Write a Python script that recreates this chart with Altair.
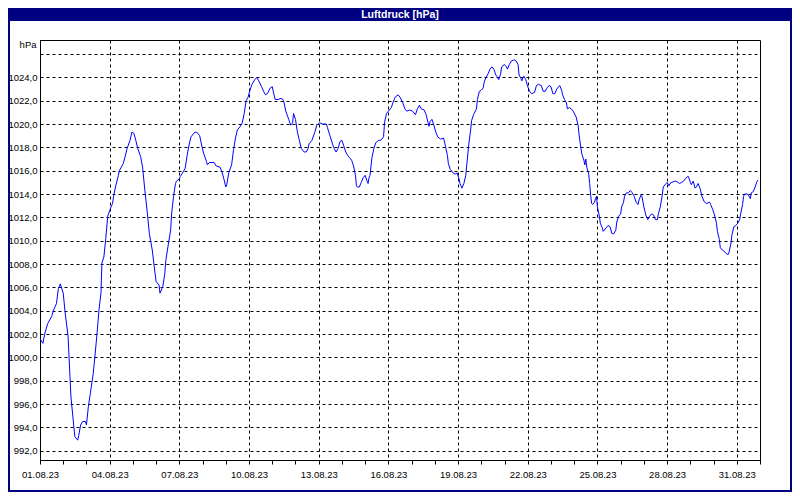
import altair as alt
import pandas as pd

# hours since 01.08.2023 00:00
hours = [
    0, 3, 5, 8, 12, 14, 17, 19, 21, 24, 26, 29, 31, 32, 34, 36, 39, 40, 42, 44,
    47, 48, 50, 52, 55, 57, 59, 61, 63, 64, 66, 68, 70, 73, 75, 76, 78, 81, 82, 86,
    88, 90, 93, 95, 97, 99, 101, 104, 106, 108, 111, 113, 116, 118, 120, 123, 124, 127,
    129, 130, 133, 135, 136, 138, 140, 141, 144, 145, 148, 150, 152, 154, 156, 160, 162, 165, 167, 169,
    172, 173, 175, 180, 182, 186, 188, 190, 192, 193, 195, 198, 200, 202, 204, 207, 209, 211, 213, 215,
    217, 219, 222, 224, 226, 229, 231, 233, 235, 238, 240, 241, 243, 246, 249, 251,
    252, 254, 257, 259, 261, 262, 264, 266, 268, 270, 273, 275, 277, 278, 281, 284, 286, 289, 292, 296,
    297, 300, 303, 304, 306, 308, 310, 312, 314, 316, 318, 320, 322, 324, 326, 327, 328, 330, 332, 334,
    336, 338, 339, 340, 341, 343, 345, 347, 350, 352, 355, 356, 358, 360, 363, 365, 367, 370, 372,
    375, 377, 379, 382, 385, 388, 390, 392, 394, 397, 399, 401, 402, 403, 405, 407, 409, 411, 414, 417,
    419, 421, 422, 424, 427, 429, 431, 433, 434, 436, 438, 440, 441, 443, 445, 446, 448, 451, 452, 454,
    456, 458, 459, 461, 463, 465, 467, 469, 471, 472, 474, 476, 477, 480, 482, 483, 485, 487, 490, 492,
    494, 495, 497, 498,
    499, 500, 502, 504, 506, 508, 511, 513, 515, 518, 520, 522, 524, 526, 528, 530, 532, 534, 537, 539,
    540, 542, 544, 545, 547, 549, 551, 554, 556, 557, 559, 560, 562, 563, 564, 565, 567, 568, 569, 570,
    571, 573, 574, 575, 576, 578, 579, 581, 582, 585, 587, 589, 591, 593, 595, 596, 598, 600, 601, 603,
    604, 606, 608, 610, 612, 614, 616, 618, 619, 621, 622,
    624, 626, 628, 630, 632, 634, 636, 638, 639, 641, 643, 644, 647, 648, 650, 651, 653, 656, 657, 659,
    661, 663, 665, 667, 669, 670, 672, 673, 675, 677, 679, 680, 682, 684, 686, 688, 689, 692, 693, 695,
    697, 699, 700, 702, 703, 705, 707, 709, 711, 712, 714, 715, 717, 719, 721, 723, 724, 726, 727, 728,
    731, 732, 734, 735, 737, 739, 741, 742,
]

pressure = [
    1001.6, 1001.2, 1002.05, 1002.9, 1003.5, 1004.05, 1004.6, 1005.9, 1006.3, 1005.5,
    1003.8, 1001.8, 998.3, 996.6, 994.9, 993.2, 992.9, 993.3, 994.2, 994.5,
    994.5, 994.2, 995.8, 996.9, 998.6, 1000.3, 1002.1, 1004.1, 1005.5, 1008.1,
    1008.6, 1010.2, 1012.1, 1012.8, 1013.2, 1013.8, 1014.6, 1015.6, 1016.0, 1016.6,
    1017.2, 1017.9, 1018.6, 1019.3, 1019.2, 1018.6, 1017.9, 1017.2, 1016.3, 1014.6,
    1012.3, 1010.6, 1009.2, 1007.8, 1006.5, 1006.2, 1005.5, 1006.1,
    1007.2, 1008.3, 1009.9, 1010.9, 1012.3, 1013.8, 1014.9, 1015.1, 1015.3, 1015.5,
    1015.9, 1016.2, 1017.3, 1018.2, 1018.9, 1019.3, 1019.3, 1019.0, 1018.2, 1017.5,
    1016.8, 1016.5, 1016.7, 1016.7, 1016.4, 1016.3, 1015.9, 1015.3, 1014.6, 1014.8,
    1015.8, 1016.5, 1017.8, 1018.8, 1019.5, 1019.8, 1020.1, 1020.9, 1022.0, 1022.3,
    1022.9, 1023.4, 1023.8, 1024.0, 1023.7, 1023.2, 1022.8, 1022.5, 1022.6, 1023.1,
    1023.2, 1022.8, 1022.1, 1022.1, 1022.2, 1022.1,
    1021.9, 1021.1, 1020.4, 1019.9, 1020.1, 1020.9, 1020.4, 1019.3, 1018.6, 1017.9,
    1017.6, 1017.6, 1017.9, 1018.3, 1018.6, 1019.3, 1019.9, 1020.1, 1020.0, 1020.0,
    1019.7, 1018.9, 1018.1, 1017.9, 1017.6, 1017.9, 1018.5, 1018.6, 1018.1, 1017.6,
    1017.3, 1017.1, 1016.9, 1016.4, 1015.6, 1014.7, 1014.6, 1014.6, 1015.0, 1015.4,
    1015.6, 1015.1, 1014.9, 1015.4, 1015.6, 1017.1, 1017.9, 1018.4, 1018.6, 1018.6,
    1018.9, 1020.1, 1020.9, 1021.1, 1021.4, 1021.9, 1022.3, 1022.5, 1022.3,
    1021.8, 1021.3, 1021.1, 1021.2, 1021.1, 1020.8, 1021.3, 1021.6, 1021.3, 1021.2,
    1020.8, 1020.1, 1019.8, 1020.2, 1020.4, 1019.9, 1019.3, 1018.9, 1018.7, 1018.8,
    1018.1, 1017.3, 1016.6, 1016.1, 1015.8, 1015.7, 1015.8, 1015.3, 1014.9, 1014.5,
    1014.9, 1015.6, 1016.5, 1018.2, 1019.5, 1020.3, 1020.8, 1021.3, 1022.1, 1022.8,
    1022.9, 1023.1, 1023.6, 1024.0, 1024.3, 1024.7, 1024.9, 1024.7, 1024.2, 1024.1,
    1023.8, 1024.3, 1024.9, 1025.1, 1024.9, 1024.7, 1025.1, 1025.4, 1025.5, 1025.4,
    1025.1, 1024.2, 1023.9, 1023.7,
    1024.0, 1024.1, 1023.8, 1023.2, 1022.8, 1022.6, 1022.7, 1023.3, 1023.4, 1023.3,
    1022.8, 1022.8, 1023.1, 1023.3, 1023.2, 1022.6, 1022.6, 1023.0, 1023.3, 1022.9,
    1022.5, 1022.1, 1021.8, 1021.3, 1021.4, 1021.3, 1021.1, 1020.6, 1019.9, 1019.1,
    1017.9, 1017.4, 1016.9, 1016.5, 1017.0, 1016.3, 1015.7, 1014.9, 1013.9, 1013.2,
    1013.1, 1013.3, 1013.6, 1013.8, 1012.9, 1012.1, 1011.5, 1011.1, 1010.8, 1011.1,
    1011.3, 1011.2, 1010.6, 1010.6, 1010.9, 1011.6, 1012.1, 1012.3, 1012.9, 1013.3,
    1013.8, 1014.1, 1014.1, 1014.3, 1014.1, 1013.8, 1013.3, 1013.1, 1013.5, 1013.9,
    1013.8,
    1012.9, 1012.2, 1011.8, 1012.1, 1012.3, 1012.2, 1011.8, 1011.8, 1012.3, 1012.9,
    1013.9, 1014.6, 1014.9, 1015.0, 1014.7, 1014.9, 1015.0, 1015.1, 1015.1, 1015.0,
    1014.9, 1015.0, 1015.1, 1015.3, 1015.5, 1015.5, 1015.0, 1014.8, 1015.1, 1014.5,
    1014.7, 1014.9, 1014.5, 1013.8, 1013.4, 1013.2, 1013.2, 1013.3, 1013.1, 1012.7,
    1012.2, 1011.5, 1010.8, 1010.1, 1009.4, 1009.2, 1009.1, 1008.9, 1008.8, 1009.0,
    1009.8, 1010.5, 1011.2, 1011.3, 1011.5, 1011.8, 1012.3, 1013.1, 1013.8, 1014.0,
    1014.0, 1013.9, 1013.6, 1014.1, 1014.2, 1014.6, 1015.1, 1015.2,
]

y_ticks = list(range(992, 1027, 2))
title_text = "Luftdruck [hPa]"
unit_text = "hPa"

FONT = "Liberation Sans"
NAVY = "#000080"

df = pd.DataFrame({
    "t": pd.Timestamp("2023-08-01") + pd.to_timedelta(hours, unit="h"),
    "p": pressure,
})

day_ticks = [alt.DateTime(year=2023, month=8, date=d) for d in range(1, 32)] + [
    alt.DateTime(year=2023, month=9, date=1)
]
major_test = "month(datum.value) == 7 && date(datum.value) % 3 == 1"

x_axis = alt.Axis(
    values=day_ticks,
    labelExpr=f"({major_test}) ? timeFormat(datum.value, '%d.%m.%y') : ''",
    grid=True,
    gridOpacity={"condition": {"test": major_test, "value": 1}, "value": 0},
    gridDash=[3, 3],
    gridColor="black",
    gridWidth=1,
    tickSize=4,
    tickColor="black",
    domainColor="black",
    labelFont=FONT,
    labelFontSize=9.5,
    labelColor="black",
    labelPadding=5,
    labelOverlap=False,
    labelFlush=False,
    labelBaseline="top",
    title=None,
)

y_axis = alt.Axis(
    values=y_ticks,
    labelExpr="datum.value == 1026 ? '' : replace(format(datum.value, '.1f'), '.', ',')",
    ticks=False,
    labelPadding=3,
    grid=True,
    gridDash=[3, 3],
    gridColor="black",
    gridWidth=1,
    domainColor="black",
    labelFont=FONT,
    labelFontSize=9.5,
    labelColor="black",
    title=unit_text,
    titleAngle=0,
    titleX=-4,
    titleY=4,
    titleAlign="right",
    titleBaseline="middle",
    titleFont=FONT,
    titleFontSize=9.5,
    titleFontWeight="normal",
    titleColor="black",
)

line = alt.Chart(df).mark_line(color="#0000FF", strokeWidth=1).encode(
    x=alt.X(
        "t:T",
        scale=alt.Scale(
            domain=[
                alt.DateTime(year=2023, month=8, date=1),
                alt.DateTime(year=2023, month=9, date=1),
            ]
        ),
        axis=x_axis,
    ),
    y=alt.Y(
        "p:Q",
        scale=alt.Scale(domain=[991.2, 1027.2], zero=False, nice=False),
        axis=y_axis,
    ),
)

deco = alt.Chart(pd.DataFrame({"k": [0]}))

bar = deco.mark_rect(color=NAVY).encode(
    x=alt.value(-32), x2=alt.value(752), y=alt.value(-32), y2=alt.value(-19)
)
frame = deco.mark_rect(filled=False, stroke=NAVY, strokeWidth=2).encode(
    x=alt.value(-31), x2=alt.value(751), y=alt.value(-31), y2=alt.value(451)
)
title = deco.mark_text(
    text=title_text,
    color="white",
    font=FONT,
    fontSize=10.5,
    fontWeight="bold",
    align="center",
    baseline="middle",
).encode(x=alt.value(360), y=alt.value(-25.5))

chart = (
    alt.layer(line, bar, frame, title)
    .properties(
        width=720,
        height=420,
        padding={"left": 32, "top": 32, "right": 32, "bottom": 32},
        autosize=alt.AutoSizeParams(type="none"),
        background="white",
    )
    .configure_view(stroke="black", strokeWidth=1)
)

chart.save("out.html", embed_options={"renderer": "svg", "actions": False})
